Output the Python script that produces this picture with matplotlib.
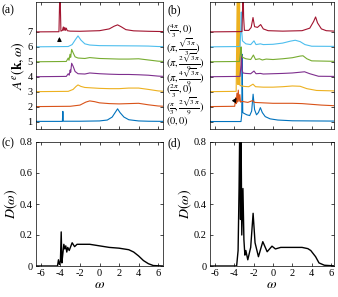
import matplotlib
matplotlib.use('Agg')
import matplotlib.pyplot as plt

plt.rcParams['font.family'] = ['Liberation Serif', 'DejaVu Serif']
plt.rcParams['mathtext.fontset'] = 'stix'

# MATLAB default line colours, curve 1 (bottom) .. curve 7 (top)
colors = ['#0072BD', '#D95319', '#EDB120', '#7E2F8E', '#77AC30', '#4DBEEE', '#A2142F']
offsets = [1, 2, 3, 4, 5, 6, 7]
k_labels = [r'$(0,0)$',
            r'$(\frac{\pi}{3},\frac{2\sqrt{3}\pi}{9})$',
            r'$(\frac{2\pi}{3},0)$',
            r'$(\pi,\frac{4\sqrt{3}\pi}{9})$',
            r'$(\pi,\frac{2\sqrt{3}\pi}{9})$',
            r'$(\pi,\frac{\sqrt{3}\pi}{3})$',
            r'$(\frac{4\pi}{3},0)$']

# ---- panel (a): spectral function, one (omega, A) list per k point
a_w = [
    [-6.5, -3.8, -3.75, -3.7, -3.5, -2, 0, 0.8, 1.3, 1.6, 1.85, 2.1, 2.5, 3, 4, 5, 6.6],
    [-6.5, -3, -2, -1.4, -1, -0.5, 0, 1, 2, 3, 4, 5, 6, 6.6],
    [-6.5, -3.2, -2.7, -2.4, -2.2, -1.9, -1.5, 0, 1, 2, 3, 4, 5, 6, 6.6],
    [-6.5, -3.4, -3.2, -3.1, -3.0, -2.95, -2.85, -2.7, -2.5, -2.2, -1.5, -1, 0, 1, 2, 3, 4, 5, 6, 6.6],
    [-6.5, -3.4, -3.2, -3.12, -3.02, -2.95, -2.85, -2.7, -2.5, -2.2, -1.5, -1, 0, 1, 2, 3, 4, 5, 6, 6.6],
    [-6.5, -3.2, -2.8, -2.5, -2.2, -1.9, -1.5, -1, 0, 2, 4, 5, 6, 6.6],
    [-6.5, -4.15, -4.05, -3.95, -3.8, -3.7, -3.65, -3.55, -3.5, -3.4, -3.3, -3, -2, 0, 1, 1.5, 1.85,
     2.2, 2.7, 3.5, 5, 6.6],
]
a_A = [
    [0.01, 0.01, 0.68, 0.02, 0.02, 0.02, 0.04, 0.1, 0.3, 0.6, 0.85, 0.6, 0.3, 0.12, 0.04, 0.02, 0.01],
    [0.0, 0.02, 0.1, 0.3, 0.38, 0.33, 0.25, 0.2, 0.18, 0.2, 0.22, 0.12, 0.04, 0.02],
    [0.0, 0.02, 0.15, 0.35, 0.45, 0.35, 0.28, 0.22, 0.2, 0.2, 0.24, 0.24, 0.15, 0.05, 0.02],
    [0.0, 0.02, 0.2, 0.1, 0.45, 0.3, 0.9, 0.7, 0.35, 0.2, 0.18, 0.25, 0.2, 0.17, 0.15, 0.15, 0.13,
     0.1, 0.04, 0.02],
    [0.0, 0.02, 0.25, 0.1, 0.5, 0.3, 0.83, 0.6, 0.33, 0.25, 0.22, 0.28, 0.22, 0.2, 0.18, 0.18, 0.2,
     0.12, 0.04, 0.02],
    [0.0, 0.02, 0.15, 0.45, 0.73, 0.45, 0.2, 0.12, 0.08, 0.07, 0.06, 0.05, 0.02, 0.02],
    [0.0, 0.01, 3.0, 0.05, 0.1, 0.33, 0.1, 0.3, 0.1, 0.25, 0.08, 0.05, 0.04, 0.08, 0.2, 0.38, 0.47,
     0.35, 0.15, 0.07, 0.04, 0.02],
]

# ---- panel (b)
b_w = [
    [-6.5, -3.3, -3.22, -3.18, -3.12, -3.0, -2.7, -2.4, -2.2, -2.05, -1.9, -1.7, -1.5, -1.3, -1.1,
     -0.8, -0.3, 0.5, 2, 4, 6.3],
    [-6.5, -3.95, -3.85, -3.8, -3.72, -3.65, -3.58, -3.5, -3.42, -3.35, -3.2, -2.6, -2.1, -1.9, -1,
     0, 2, 3, 4, 5, 6.3],
    [-6.5, -3.8, -3.7, -3.66, -3.62, -3.58, -3.54, -3.5, -3.45, -3.4, -3.3, -3.0, -2.5, -2.06, -1.8,
     -1, 0, 1, 2, 2.8, 3.5, 4.5, 6.3],
    [-6.5, -3.4, -3.3, -3.26, -3.2, -3.1, -2.8, -2.3, -1.96, -1.75, -1.3, -1, 0, 1, 2, 2.8, 3.26,
     3.8, 4.7, 6.3],
    [-6.5, -3.45, -3.35, -3.3, -3.25, -3.15, -2.8, -2.3, -2.02, -1.8, -1.4, -1.1, -0.7, 0, 1, 2, 2.8,
     3.1, 3.5, 4, 6.3],
    [-6.5, -3.4, -3.32, -3.27, -3.22, -3.15, -2.8, -2.3, -1.96, -1.75, -1.3, -1, 0, 1, 1.8, 2.3,
     2.8, 3.3, 4, 6.3],
    [-6.5, -3.2, -3.12, -3.08, -3.03, -2.95, -2.5, -2.25, -2.06, -1.9, -1.6, -1.27, -1.0, -0.5, 1,
     3, 3.8, 4.2, 4.4, 4.6, 5, 5.5, 6.3],
]
b_A = [
    [0.0, 0.0, 0.5, 4.5, 0.6, 0.55, 0.45, 0.4, 0.7, 1.83, 0.8, 0.45, 0.6, 0.93, 0.6, 0.33, 0.18,
     0.1, 0.05, 0.04, 0.03],
    [0.0, 0.02, 0.6, 0.2, 0.9, 0.3, 1.1, 0.35, 0.8, 0.3, 0.35, 0.28, 0.4, 0.28, 0.25, 0.22, 0.22,
     0.2, 0.15, 0.1, 0.06],
    [0.0, 0.02, 6.0, 0.5, 6.0, 0.5, 6.0, 0.5, 6.0, 0.4, 0.4, 0.35, 0.33, 0.5, 0.33, 0.3, 0.3, 0.33,
     0.38, 0.36, 0.2, 0.08, 0.05],
    [0.0, 0.02, 0.8, 1.8, 0.5, 0.25, 0.22, 0.2, 0.38, 0.2, 0.22, 0.18, 0.2, 0.22, 0.25, 0.3, 0.33,
     0.2, 0.03, 0.02],
    [0.0, 0.02, 0.6, 1.0, 0.5, 0.3, 0.2, 0.15, 0.45, 0.15, 0.2, 0.12, 0.18, 0.15, 0.2, 0.27, 0.38,
     0.4, 0.2, 0.06, 0.03],
    [0.0, 0.02, 1.2, 2.33, 1.0, 0.4, 0.2, 0.15, 0.4, 0.15, 0.2, 0.15, 0.17, 0.25, 0.38, 0.44, 0.35,
     0.15, 0.04, 0.03],
    [0.0, 0.02, 2.0, 3.0, 1.0, 0.1, 0.1, 0.3, 0.96, 0.35, 0.3, 0.49, 0.2, 0.08, 0.05, 0.08, 0.25,
     0.7, 1.0, 0.6, 0.2, 0.08, 0.05],
]

# ---- panels (c), (d): density of states
c_w = [-6.5, -4.3, -4.2, -4.1, -4.0, -3.92, -3.85, -3.75, -3.65, -3.55, -3.45, -3.35, -3.25, -3.1,
       -2.8, -2.55, -2.3, -1.5, -1, 0, 1, 2, 3, 3.5, 4, 4.5, 5, 5.5, 6.5]
c_D = [0, 0, 0.04, 0.01, 0.03, 0.22, 0.02, 0.08, 0.14, 0.11, 0.13, 0.09, 0.12, 0.1,
       0.15, 0.125, 0.14, 0.14, 0.14, 0.13, 0.12, 0.115, 0.105, 0.09, 0.065, 0.035, 0.015, 0.003, 0]

d_w = [-6.5, -3.75, -3.6, -3.5, -3.42, -3.35, -3.3, -3.22, -3.1, -3.0, -2.9, -2.8, -2.6, -2.3,
       -2.05, -1.85, -1.5, -1.05, -0.6, -0.1, 0.25, 0.8, 2, 3, 3.6, 3.9, 4.4, 4.75, 5.3, 6.5]
d_D = [0, 0, 0.1, 0.5, 0.95, 0.3, 0.95, 0.2, 0.5, 0.17, 0.07, 0.1, 0.04, 0.12,
       0.34, 0.15, 0.06, 0.157, 0.092, 0.128, 0.11, 0.12, 0.12, 0.12, 0.112, 0.1, 0.06, 0.02, 0.005, 0]

xticks = [-6, -4, -2, 0, 2, 4, 6]
dticks = [0, 0.2, 0.4, 0.6, 0.8]

W, H = 338, 297
fig = plt.figure(figsize=(W / 100, H / 100), dpi=100)


def box(x0, x1, ytop, ybot):
    return fig.add_axes([x0 / W, 1 - ybot / H, (x1 - x0) / W, (ybot - ytop) / H])


ax_a = box(36, 163, 2, 129)
ax_b = box(210, 334, 2, 129)
ax_c = box(36, 163, 142, 266)
ax_d = box(210, 334, 142, 266)

for ax in [ax_a, ax_b, ax_c, ax_d]:
    ax.tick_params(direction='in', top=True, right=True, length=2.5, width=0.5,
                   labelsize=7.5, pad=2.5)
    for s in ax.spines.values():
        s.set_linewidth(0.5)

for i in range(7):
    ax_a.plot(a_w[i], [offsets[i] + v for v in a_A[i]], color=colors[i], lw=0.8)
    ax_b.plot(b_w[i], [offsets[i] + v for v in b_A[i]], color=colors[i], lw=0.8)

ax_a.set_xlim(-6.5, 6.5)
ax_b.set_xlim(-6.5, 6.3)
for ax in [ax_a, ax_b]:
    ax.set_ylim(0.5, 9)
    ax.set_xticks(xticks)
    ax.set_xticklabels([])
    ax.set_yticks(offsets)
ax_a.set_yticklabels([str(o) for o in offsets])
ax_b.set_yticklabels([])
ax_a.set_ylabel(r'$A^{e}(\mathbf{k},\omega)$', fontsize=10, labelpad=0)

# k-point labels between panels (a) and (b)
for o, lab in zip(offsets, k_labels):
    ax_a.text(1.02, o, lab, transform=ax_a.get_yaxis_transform(), ha='left', va='center',
              fontsize=7.5)

ax_a.annotate('', xy=(-4.1, 6.85), xytext=(-4.1, 6.25),
              arrowprops=dict(arrowstyle='-|>', color='k', lw=0.8, mutation_scale=6))
ax_b.annotate('', xy=(-3.6, 2.75), xytext=(-4.1, 2.25),
              arrowprops=dict(arrowstyle='-|>', color='k', lw=0.8, mutation_scale=6))

ax_c.plot(c_w, c_D, color='k', lw=1.0)
ax_d.plot(d_w, d_D, color='k', lw=1.0)
ax_c.set_xlim(-6.5, 6.5)
ax_d.set_xlim(-6.5, 6.3)
for ax in [ax_c, ax_d]:
    ax.set_ylim(0, 0.8)
    ax.set_xticks(xticks)
    ax.set_xticklabels([str(t) for t in xticks])
    ax.set_yticks(dticks)
    ax.set_yticklabels(['0', '0.2', '0.4', '0.6', '0.8'])
    ax.set_xlabel(r'$\omega$', fontsize=10, labelpad=0)
    ax.set_ylabel(r'$D(\omega)$', fontsize=10, labelpad=0)

fig.text(1 / W, 1 - 10 / H, '(a)', fontsize=8.5, va='center', ha='left')
fig.text(167 / W, 1 - 10 / H, '(b)', fontsize=8.5, va='center', ha='left')
fig.text(1 / W, 1 - 143 / H, '(c)', fontsize=8.5, va='center', ha='left')
fig.text(167 / W, 1 - 143 / H, '(d)', fontsize=8.5, va='center', ha='left')

fig.savefig('out.png', dpi=100)
